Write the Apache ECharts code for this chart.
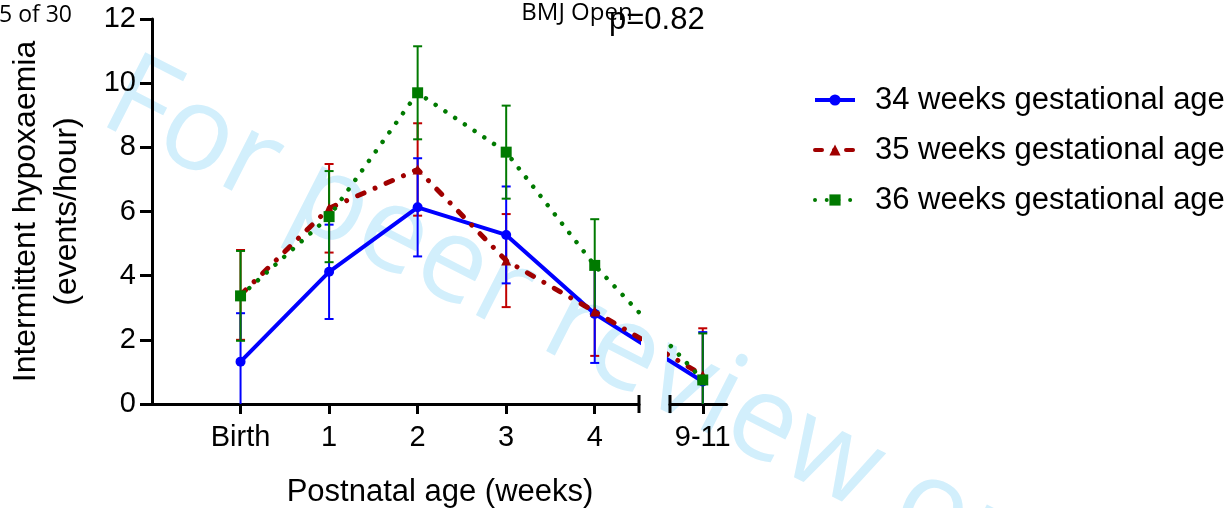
<!DOCTYPE html>
<html><head><meta charset="utf-8">
<script src="https://cdn.jsdelivr.net/npm/echarts@6/dist/echarts.min.js"></script>
<style>html,body{margin:0;padding:0;background:#fff}#c{width:1230px;height:508px}</style>
</head><body><div id="c"></div>
<script>
// Data
var weeks = [0, 1, 2, 3, 4, 10];
var tickLabels = ['Birth', '1', '2', '3', '4', '9-11'];
var seriesNames = ['34 weeks gestational age', '35 weeks gestational age', '36 weeks gestational age'];
var mean34 = [1.32, 4.12, 6.13, 5.27, 2.81, 0.70];
var err34  = [1.51, 1.47, 1.53, 1.51, 1.53, 1.54];
var mean35 = [3.40, 6.10, 7.31, 4.47, 2.88, 0.90];
var err35  = [1.40, 1.38, 1.44, 1.45, 1.38, 1.46];
var mean36 = [3.37, 5.84, 9.70, 7.85, 4.32, 0.75];
var err36  = [1.40, 1.42, 1.45, 1.45, 1.44, 1.45];
var yTicks = [0, 2, 4, 6, 8, 10, 12];
var pText = 'p=0.82';

// Broken x axis: weeks 4.5 .. 9.63 are cut out and replaced by a small gap
var BREAK_START = 4.5, BREAK_END = 9.63, BREAK_GAP = 0.35, X_MIN = -1, X_MAX = 10.27;
function pos(w) { return w <= BREAK_START ? w : BREAK_START + BREAK_GAP + (w - BREAK_END); }

var FONT = '"Liberation Sans", Arial, sans-serif';
var colors = ['#0000ff', '#a00000', '#007a00'];
var barColors = ['#0000ff', '#c00000', '#007a00'];

function pts(m) { return weeks.map(function (w, i) { return [pos(w), m[i]]; }); }
function bars(m, e) { return weeks.map(function (w, i) { return [pos(w), m[i] - e[i], m[i] + e[i]]; }); }

var chart = echarts.init(document.getElementById('c'));

var lineStyles = [
  { color: colors[0], width: 4, type: 'solid' },
  { color: colors[1], width: 5, type: [7, 12, 0.01, 12], cap: 'round' },
  { color: colors[2], width: 4.5, type: [0.01, 11.7], cap: 'round' }
];
var symbols = ['circle', 'triangle', 'rect'];
var symbolSizes = [10, 10, 11];
var means = [mean34, mean35, mean36];
var errs = [err34, err35, err36];

function errRender(color) {
  return function (params, api) {
    var x = api.value(0);
    var lo = api.coord([x, api.value(1)]);
    var hi = api.coord([x, api.value(2)]);
    var hw = 4.5;
    var st = { stroke: color, lineWidth: 2 };
    return {
      type: 'group',
      children: [
        { type: 'line', shape: { x1: lo[0], y1: lo[1], x2: hi[0], y2: hi[1] }, style: st },
        { type: 'line', shape: { x1: lo[0] - hw, y1: lo[1], x2: lo[0] + hw, y2: lo[1] }, style: st },
        { type: 'line', shape: { x1: hi[0] - hw, y1: hi[1], x2: hi[0] + hw, y2: hi[1] }, style: st }
      ]
    };
  };
}

var series = [];
[0, 1].forEach(function (g) {
  [1, 0, 2].forEach(function (k) {
    series.push({
      type: 'custom', name: 'err' + k + '_' + g, xAxisIndex: g, yAxisIndex: g,
      renderItem: errRender(barColors[k]), data: bars(means[k], errs[k]), clip: true, z: 2,
      encode: { x: 0, y: [1, 2] }
    });
  });
  [0, 1, 2].forEach(function (k) {
    series.push({
      type: 'line', name: seriesNames[k], xAxisIndex: g, yAxisIndex: g,
      data: pts(means[k]), clip: true, symbol: symbols[k], symbolSize: symbolSizes[k],
      showSymbol: true, lineStyle: lineStyles[k], itemStyle: { color: colors[k] },
      z: 3 + k, animation: false
    });
  });
});

function makeX(g, min, max, vals) {
  var p = vals.map(pos);
  return {
    gridIndex: g, type: 'value', min: pos(min), max: pos(max), splitLine: { show: false },
    axisLine: { show: true, onZero: false, lineStyle: { color: '#000', width: 3 } },
    axisTick: { show: true, length: 10, lineStyle: { color: '#000', width: 3 }, customValues: p },
    axisLabel: { color: '#000', fontSize: 29, fontFamily: FONT, margin: 19, customValues: p,
      formatter: function (v) {
        for (var i = 0; i < weeks.length; i++) { if (Math.abs(pos(weeks[i]) - v) < 1e-6) return tickLabels[i]; }
        return '';
      } }
  };
}

var PX_PER_UNIT = 487 / (BREAK_START - X_MIN);
var option = {
  animation: false,
  grid: [
    { left: 152, top: 19, width: 487, height: 385 },
    { left: 152 + 487 + BREAK_GAP * PX_PER_UNIT, top: 19, width: (X_MAX - BREAK_END) * PX_PER_UNIT, height: 385 }
  ],
  xAxis: [makeX(0, X_MIN, BREAK_START, weeks.slice(0, 5)), makeX(1, BREAK_END, X_MAX, weeks.slice(5))],
  yAxis: [
    { gridIndex: 0, type: 'value', min: yTicks[0], max: yTicks[yTicks.length - 1], interval: 2,
      splitLine: { show: false },
      axisLine: { show: true, onZero: false, lineStyle: { color: '#000', width: 3 } },
      axisTick: { show: true, length: 12, lineStyle: { color: '#000', width: 3 } },
      axisLabel: { color: '#000', fontSize: 29, fontFamily: FONT, margin: 16 },
      name: 'Intermittent hypoxaemia\n(events/hour)', nameLocation: 'middle', nameGap: 64,
      nameTextStyle: { color: '#000', fontSize: 32, fontFamily: FONT, lineHeight: 41 } },
    { gridIndex: 1, type: 'value', min: yTicks[0], max: yTicks[yTicks.length - 1], show: false }
  ],
  legend: {
    data: seriesNames, orient: 'vertical', left: 808, top: 77,
    itemWidth: 40, itemHeight: 14, itemGap: 14,
    lineStyle: { width: 4 },
    textStyle: { color: '#000', fontSize: 31, fontFamily: FONT, lineHeight: 36, padding: [0, 0, 0, 15] }
  },
  series: series,
  graphic: []
};
chart.setOption(option);

// Decorations (axis break ends, texts, watermark)
var endL = chart.convertToPixel({ xAxisIndex: 0, yAxisIndex: 0 }, [pos(BREAK_START), 0]);
var endR = chart.convertToPixel({ xAxisIndex: 1, yAxisIndex: 1 }, [pos(BREAK_END), 0]);
chart.setOption({
  graphic: [
    { type: 'text', z: -10, silent: true, x: 112, y: 92, rotation: -27 * Math.PI / 180,
      style: { text: 'For peer review only', fontSize: 118, fontFamily: '"Open Sans", "Noto Sans", sans-serif',
        fill: '#d2effc', textVerticalAlign: 'middle' } },
    { type: 'line', z: 10, shape: { x1: endL[0], y1: endL[1] - 9, x2: endL[0], y2: endL[1] + 9 },
      style: { stroke: '#000', lineWidth: 3 } },
    { type: 'line', z: 10, shape: { x1: endR[0], y1: endR[1] - 9, x2: endR[0], y2: endR[1] + 9 },
      style: { stroke: '#000', lineWidth: 3 } },
    { type: 'text', x: 440, y: 492, style: { text: 'Postnatal age (weeks)', fontSize: 31, fontFamily: FONT,
      fill: '#000', textAlign: 'center', textVerticalAlign: 'middle' } },
    { type: 'text', x: 72, y: 15, style: { text: '5 of 30', fontSize: 23, fontFamily: '"Open Sans", "Noto Sans", sans-serif',
      fill: '#000', textAlign: 'right', textVerticalAlign: 'middle' } },
    { type: 'text', x: 577, y: 13, style: { text: 'BMJ Open', fontSize: 24, fontFamily: '"Open Sans", "Noto Sans", sans-serif',
      fill: '#000', textAlign: 'center', textVerticalAlign: 'middle' } },
    { type: 'text', x: 609, y: 20, z: 10, style: { text: pText, fontSize: 31, fontFamily: FONT,
      fill: '#000', textAlign: 'left', textVerticalAlign: 'middle' } }
  ]
});
</script>
</body></html>
